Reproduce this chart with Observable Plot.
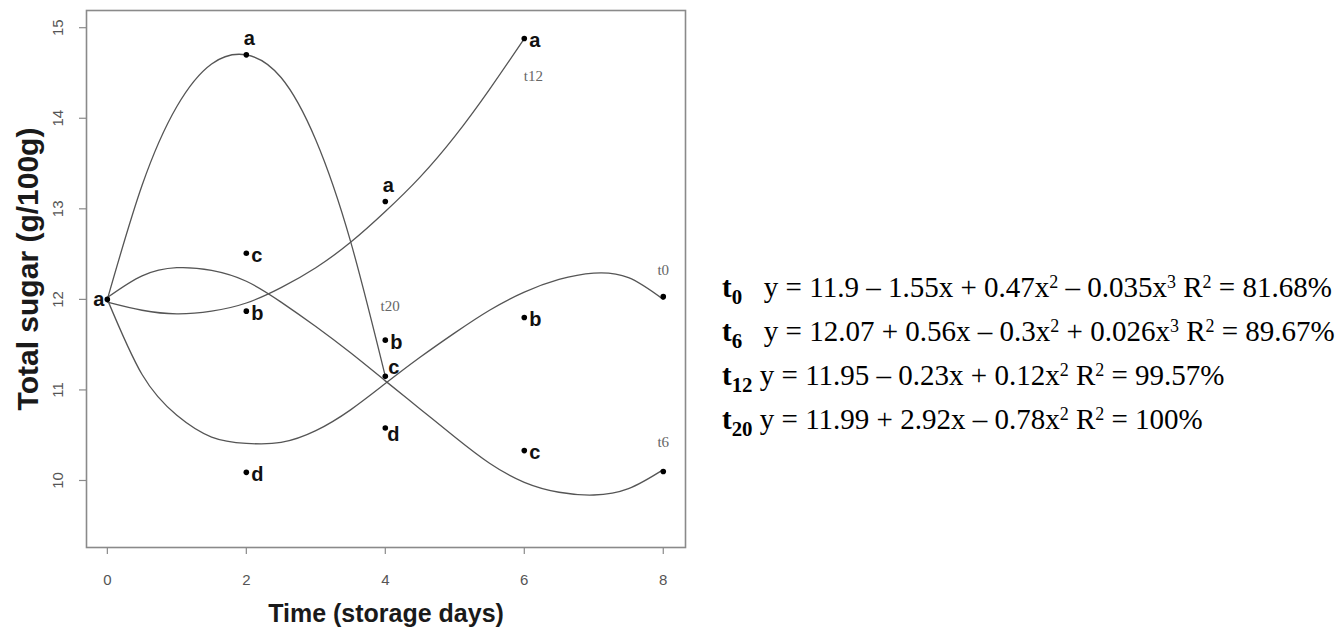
<!DOCTYPE html>
<html><head><meta charset="utf-8">
<script src="https://cdn.jsdelivr.net/npm/d3@7"></script>
<script src="https://cdn.jsdelivr.net/npm/@observablehq/plot@0.6"></script>
<style>
body{margin:0;background:#fff;}
#wrap{position:relative;width:1341px;height:630px;overflow:hidden;}
#chart{position:absolute;left:0;top:0;}
#eq{position:absolute;left:722px;top:265px;font-family:"Liberation Serif","Times New Roman",serif;font-size:29px;line-height:44px;color:#000;white-space:nowrap;}
#eq sup{font-size:0.62em;vertical-align:0.5em;line-height:0}
#eq .t{font-weight:bold}
#eq .t sub{font-size:0.72em;vertical-align:-0.35em;line-height:0}
</style></head>
<body><div id="wrap"><div id="chart"></div><div id="eq"></div></div>
<script>
// measured points
const pointDay    = [0, 2, 2, 2, 2, 4, 4, 4, 4, 6, 6, 6, 8, 8];
const pointSugar  = [12.0, 14.7, 12.51, 11.87, 10.09, 13.08, 11.55, 11.15, 10.58, 14.88, 11.8, 10.33, 12.03, 10.1];
const pointLetter = ["a", "a", "c", "b", "d", "a", "b", "c", "d", "a", "b", "c", "", ""];
const pointSide   = ["left", "above", "right", "right", "right", "above", "right", "aboveRight", "belowRight", "right", "right", "right", "", ""];

// fitted curves
const curveDay = [0, 0.5, 1, 1.5, 2, 2.5, 3, 3.5, 4, 4.5, 5, 5.5, 6, 6.5, 7, 7.5, 8];
const t0Sugar  = [12.0, 11.17, 10.72, 10.48, 10.41, 10.42, 10.55, 10.78, 11.07, 11.36, 11.63, 11.88, 12.08, 12.22, 12.29, 12.24, 12.0];
const t6Sugar  = [12.02, 12.26, 12.35, 12.32, 12.2, 11.97, 11.7, 11.41, 11.1, 10.79, 10.48, 10.19, 9.98, 9.87, 9.84, 9.91, 10.12];
const t12Day   = [0, 0.5, 1, 1.5, 2, 2.5, 3, 3.5, 4, 4.5, 5, 5.5, 6];
const t12Sugar = [11.97, 11.88, 11.84, 11.87, 11.96, 12.13, 12.35, 12.63, 12.97, 13.35, 13.8, 14.32, 14.88];
const t20Day   = [0, 0.5, 1, 1.5, 2, 2.5, 3, 3.5, 4];
const t20Sugar = [12.0, 13.26, 14.13, 14.6, 14.7, 14.45, 13.76, 12.64, 11.15];

const curveName   = ["t0", "t6", "t12", "t20"];
const curveLabelX = [8.0, 8.0, 6.13, 4.07];
const curveLabelY = [12.32, 10.42, 14.46, 11.93];

const xTicks = [0, 2, 4, 6, 8];
const yTicks = [10, 11, 12, 13, 14, 15];

const eqSub  = ["0", "6", "12", "20"];
const eqText = [
  "y = 11.9 – 1.55x + 0.47x<sup>2</sup> – 0.035x<sup>3</sup> R<sup>2</sup> = 81.68%",
  "y = 12.07 + 0.56x – 0.3x<sup>2</sup> + 0.026x<sup>3</sup> R<sup>2</sup> = 89.67%",
  "y = 11.95 – 0.23x + 0.12x<sup>2</sup> R<sup>2</sup> = 99.57%",
  "y = 11.99 + 2.92x – 0.78x<sup>2</sup> R<sup>2</sup> = 100%"
];

const points = pointDay.map((d, i) => ({day: d, sugar: pointSugar[i], letter: pointLetter[i], side: pointSide[i]}));
const curves = [
  ...curveDay.map((d, i) => ({curve: "t0", day: d, sugar: t0Sugar[i]})),
  ...curveDay.map((d, i) => ({curve: "t6", day: d, sugar: t6Sugar[i]})),
  ...t12Day.map((d, i) => ({curve: "t12", day: d, sugar: t12Sugar[i]})),
  ...t20Day.map((d, i) => ({curve: "t20", day: d, sugar: t20Sugar[i]}))
];
const curveLabels = curveName.map((n, i) => ({name: n, day: curveLabelX[i], sugar: curveLabelY[i]}));

const sans = "'Liberation Sans', Arial, Helvetica, sans-serif";
const letterOpts = {x: "day", y: "sugar", text: "letter", fontSize: 20, fontWeight: "bold", fill: "#111", fontFamily: sans};

const chart = Plot.plot({
  width: 700,
  height: 630,
  marginLeft: 86,
  marginRight: 15,
  marginTop: 10,
  marginBottom: 83,
  style: {fontFamily: sans, background: "#fff"},
  x: {domain: [-0.3, 8.32]},
  y: {domain: [9.26, 15.19]},
  marks: [
    Plot.frame({stroke: "#8a8a8a", strokeWidth: 1.6}),
    Plot.axisX({ticks: xTicks, tickSize: 7, tickFormat: () => "", label: null, stroke: "#8a8a8a", strokeWidth: 1.2}),
    Plot.axisY({ticks: yTicks, tickSize: 7, tickFormat: () => "", label: null, stroke: "#8a8a8a", strokeWidth: 1.2}),
    Plot.text(xTicks, {x: d => d, text: d => String(d), frameAnchor: "bottom", dy: 33, fontSize: 15, fill: "#555", lineAnchor: "middle"}),
    Plot.text(yTicks, {y: d => d, text: d => String(d), frameAnchor: "left", dx: -28, rotate: -90, fontSize: 15, fill: "#555", textAnchor: "middle"}),
    Plot.text(["Time (storage days)"], {text: d => d, frameAnchor: "bottom", dy: 66, fontSize: 25, fontWeight: "bold", fill: "#1a1a1a", lineAnchor: "middle"}),
    Plot.text(["Total sugar (g/100g)"], {text: d => d, frameAnchor: "left", dx: -58, dy: -10, rotate: -90, fontSize: 30, fontWeight: "bold", fill: "#1a1a1a", textAnchor: "middle"}),
    Plot.line(curves, {x: "day", y: "sugar", z: "curve", curve: "natural", stroke: "#555", strokeWidth: 1.3}),
    Plot.dot(points, {x: "day", y: "sugar", r: 2.8, fill: "#000"}),
    Plot.text(points.filter(p => p.side === "right"), {...letterOpts, textAnchor: "start", dx: 5, dy: 2}),
    Plot.text(points.filter(p => p.side === "left"), {...letterOpts, textAnchor: "end", dx: -3, dy: 0}),
    Plot.text(points.filter(p => p.side === "above"), {...letterOpts, textAnchor: "middle", dx: 3, dy: -16}),
    Plot.text(points.filter(p => p.side === "aboveRight"), {...letterOpts, textAnchor: "start", dx: 3, dy: -9}),
    Plot.text(points.filter(p => p.side === "belowRight"), {...letterOpts, textAnchor: "start", dx: 2, dy: 7}),
    Plot.text(curveLabels, {x: "day", y: "sugar", text: "name", fontSize: 15, fill: "#666", fontFamily: "'Liberation Serif', 'Times New Roman', serif"})
  ]
});
document.getElementById("chart").appendChild(chart);

const eq = document.getElementById("eq");
eqSub.forEach((s, i) => {
  const div = document.createElement("div");
  const gap = s.length > 1 ? "&nbsp;" : "&nbsp;&nbsp;&nbsp;";
  div.innerHTML = `<span class="t">t<sub>${s}</sub></span>${gap}${eqText[i]}`;
  eq.appendChild(div);
});
</script>
</body></html>
